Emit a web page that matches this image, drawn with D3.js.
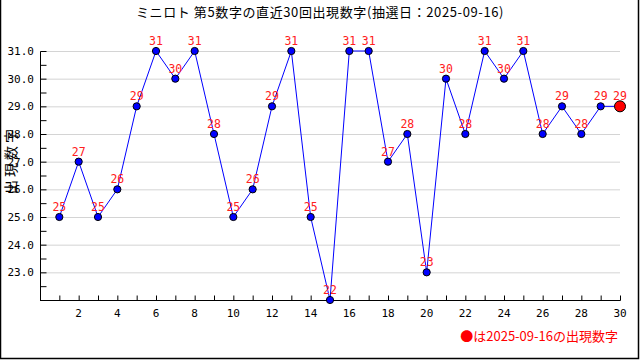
<!DOCTYPE html>
<html><head><meta charset="utf-8">
<script src="https://cdn.jsdelivr.net/npm/d3@7/dist/d3.min.js"></script>
<style>body{margin:0;background:#fff}svg{display:block}</style>
</head><body>
<svg id="c" width="640" height="360"></svg>
<script>
const titleText = "ミニロト 第5数字の直近30回出現数字(抽選日：2025-09-16)";
const yLabel = "出現数字";
const legendText = "●は2025-09-16の出現数字";
const draws = d3.range(1, 31);
const values = [25,27,25,26,29,31,30,31,28,25,26,29,31,25,22,31,31,27,28,23,30,28,31,30,31,28,29,28,29,29];
const yTicks = [23,24,25,26,27,28,29,30,31];
const xTicks = [2,4,6,8,10,12,14,16,18,20,22,24,26,28,30];

const svg = d3.select("#c");
const x = d3.scaleLinear().domain([0, 30]).range([40, 620]);
const y = d3.scaleLinear().domain([22, 31]).range([300, 51]);
const mono = "'DejaVu Sans Mono', monospace";
const jp = "'Noto Sans CJK JP', sans-serif";

// border
svg.append("path").attr("d", "M0.5,0 V358.5 H638.5 V0").attr("fill", "none").attr("stroke", "#000").attr("stroke-width", 1.5);

// grid
svg.append("g").selectAll("line").data(yTicks).join("line")
  .attr("x1", x(0)).attr("x2", x(30)).attr("y1", d => y(d) + 0.5).attr("y2", d => y(d) + 0.5)
  .attr("stroke", "#d4d4d4");

// y axis
const ya = svg.append("g").attr("transform", `translate(${x(0) + 0.5},0)`)
  .call(d3.axisRight(y).tickValues(d3.range(22, 31.01, 0.5)).tickSize(6).tickFormat(""));
ya.select(".domain").attr("d", `M0,${y(31) + 0.5}V${y(22) + 0.5}`).attr("stroke", "#000");
ya.selectAll(".tick line").attr("stroke", "#000");
svg.append("g").selectAll("text").data(yTicks).join("text")
  .attr("x", 34).attr("y", d => y(d)).attr("dy", "0.35em").attr("text-anchor", "end")
  .attr("font-family", mono).attr("font-size", 11).attr("fill", "#000")
  .text(d => d.toFixed(1));

// x axis
const xa = svg.append("g").attr("transform", `translate(0,${y(22) + 0.5})`)
  .call(d3.axisTop(x).tickValues(d3.range(1, 31)).tickSize(5).tickFormat(""));
xa.select(".domain").attr("d", `M${x(0)},0H${x(30) + 0.5}`).attr("stroke", "#000");
xa.selectAll(".tick line").attr("stroke", "#000");
svg.append("g").selectAll("text").data(xTicks).join("text")
  .attr("x", d => x(d)).attr("y", 313).attr("dy", "0.35em").attr("text-anchor", "middle")
  .attr("font-family", mono).attr("font-size", 11).attr("fill", "#000")
  .text(d => d);

// line
const pts = draws.map((d, i) => [d, values[i]]);
svg.append("path").datum(pts)
  .attr("d", d3.line().x(d => x(d[0])).y(d => y(d[1])))
  .attr("fill", "none").attr("stroke", "#0000ff").attr("stroke-width", 1);

// points
svg.append("g").selectAll("circle").data(pts).join("circle")
  .attr("cx", d => x(d[0])).attr("cy", d => y(d[1]))
  .attr("r", (d, i) => i === pts.length - 1 ? 5.5 : 3.6)
  .attr("fill", (d, i) => i === pts.length - 1 ? "#ff0000" : "#0000ff")
  .attr("stroke", "#000").attr("stroke-width", 1);

// labels
svg.append("g").selectAll("text").data(pts).join("text")
  .attr("x", d => x(d[0])).attr("y", d => y(d[1]) - 10).attr("dy", "0.35em")
  .attr("text-anchor", "middle").attr("font-family", mono).attr("font-size", 11.5)
  .attr("fill", "#ff2020").text(d => d[1]);

// title
svg.append("text").attr("x", 320).attr("y", 12).attr("dy", "0.35em").attr("text-anchor", "middle")
  .attr("font-family", jp).attr("font-size", 13).attr("letter-spacing", 0.6).attr("fill", "#000").text(titleText);

// y label
svg.append("text").attr("transform", "translate(11,160) rotate(-90)").attr("dy", "0.35em")
  .attr("text-anchor", "middle").attr("font-family", jp).attr("font-size", 14).attr("letter-spacing", 3)
  .attr("fill", "#000").text(yLabel);

// legend
svg.append("text").attr("x", 618).attr("y", 336).attr("dy", "0.35em").attr("text-anchor", "end")
  .attr("font-family", jp).attr("font-size", 13).attr("fill", "#ff0000").text(legendText);
</script>
</body></html>
